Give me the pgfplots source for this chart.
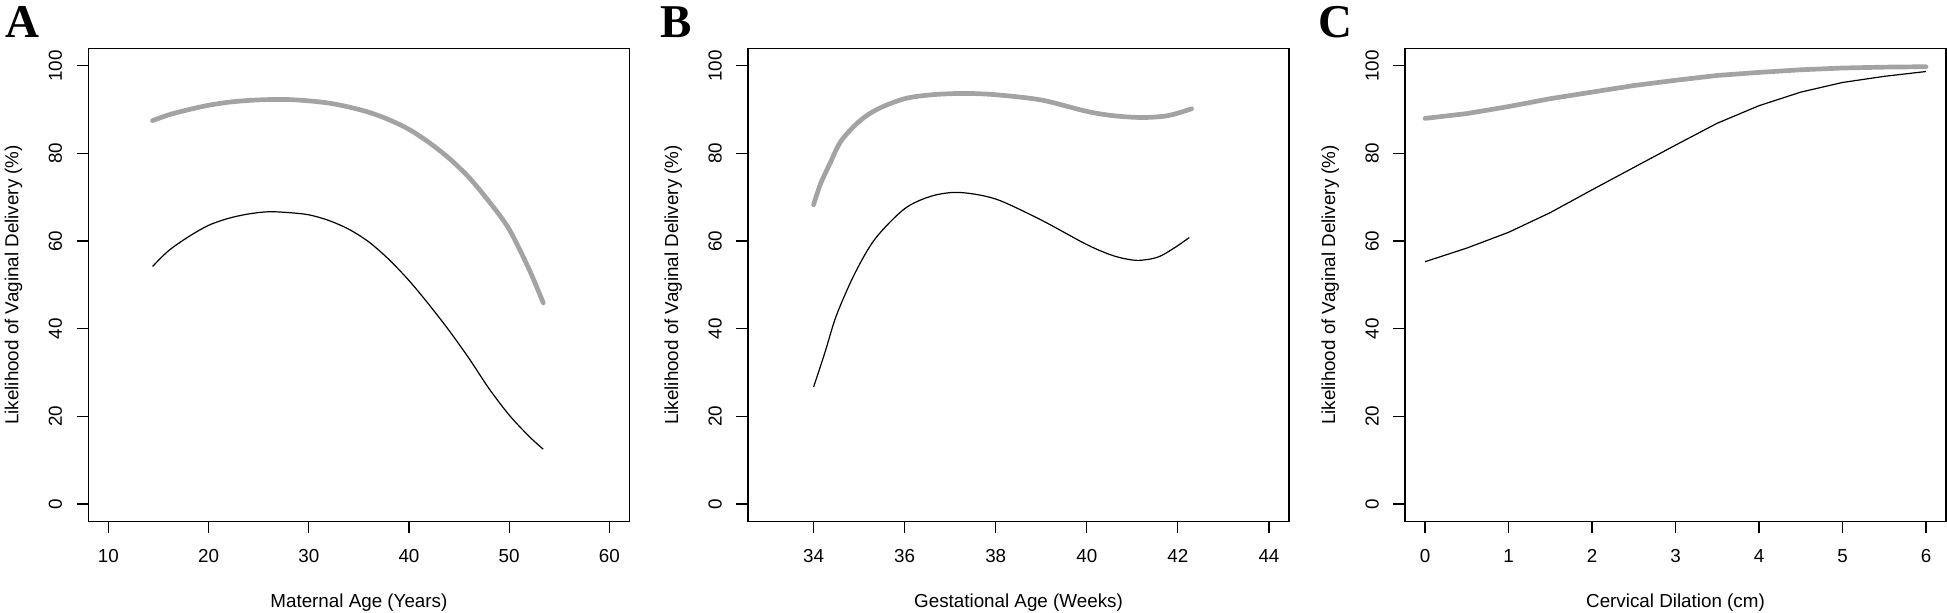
\documentclass[border=0pt]{standalone}
\usepackage{fontspec}
\setmainfont{Liberation Sans}
\newfontfamily\letterfont{Liberation Serif}
\usepackage{pgfplots}
\pgfplotsset{compat=1.18}
\definecolor{rgray}{RGB}{163,163,163}
\pgfplotsset{rpanel/.style={
  anchor=south west, scale only axis, width=270.5pt, height=236.6pt,
  ymin=-4, ymax=104, ytick={0,20,40,60,80,100},
  tick align=outside, major tick length=5.85pt,
  tick pos=left,
  axis line style={line width=0.6pt},
  every tick/.style={black, line width=0.6pt},
  /pgf/number format/assume math mode=true,
  ticklabel style={font=\fontsize{9.4}{11}\selectfont, inner sep=0pt},
  xticklabel style={anchor=base},
  yticklabel style={rotate=90, anchor=base},
  xticklabel shift=14.6pt,
  yticklabel shift=7.4pt,
  every axis x label/.style={at={(axis description cs:0.5,0)}, anchor=base, yshift=-42.9pt, font=\fontsize{9.4}{11}\selectfont, inner sep=0pt},
  every axis y label/.style={at={(axis description cs:-0.1294,0.5)}, rotate=90, anchor=base, font=\fontsize{9.4}{11}\selectfont, inner sep=0pt},
  ylabel={Likelihood of Vaginal Delivery (\%)},
  thickline/.style={rgray, line width=2.35pt, line cap=round, line join=round},
  thinline/.style={black, line width=0.6pt},
}}
\begin{document}
\begin{tikzpicture}
\useasboundingbox (0,0) rectangle (973.5pt,306pt);
\tikzset{panelletter/.style={anchor=base west, inner sep=0pt, font=\letterfont\bfseries\fontsize{23.5}{24}\selectfont}}
\node[panelletter] at (2.5pt,287.35pt) {A};
\node[panelletter] at (330.2pt,287.35pt) {B};
\node[panelletter] at (658.9pt,287.35pt) {C};

% Panel A
\begin{axis}[rpanel, at={(44.2pt,45.25pt)}, xmin=8, xmax=62, xtick={10,20,30,40,50,60},
  xlabel={Maternal Age (Years)}]
\addplot[thickline, smooth] coordinates {
(14.4,87.5) (16,88.8) (18,90.0) (20,91.0) (22,91.7) (24,92.1) (26,92.3) (28,92.3)
(30,92.0) (32,91.5) (34,90.6) (36,89.4) (38,87.7) (40,85.5) (42,82.5) (44,78.9)
(46,74.5) (48,69.0) (50,62.7) (52,53.5) (53.4,45.9)};
\addplot[thinline, smooth] coordinates {
(14.4,54.2) (16,57.8) (18,61.0) (20,63.6) (22,65.2) (24,66.2) (26,66.7) (28,66.5)
(30,66.0) (32,64.7) (34,62.7) (36,59.8) (38,55.8) (40,51.0) (42,45.5) (44,39.6)
(46,33.2) (48,26.3) (50,20.3) (52,15.4) (53.4,12.5)};
\end{axis}

% Panel B
\begin{axis}[rpanel, at={(374pt,45.25pt)}, xmin=32.56, xmax=44.44, xtick={34,36,38,40,42,44},
  xlabel={Gestational Age (Weeks)}]
\addplot[thickline, smooth] coordinates {
(34.0,68.3) (34.15,73.0) (34.35,77.5) (34.6,82.8) (35.0,87.3) (35.4,90.1) (36.0,92.5)
(36.6,93.4) (37.3,93.7) (38.0,93.4) (39.0,92.2) (40.0,89.6) (40.6,88.6) (41.2,88.2)
(41.7,88.5) (42.0,89.2) (42.3,90.2)};
\addplot[thinline, smooth] coordinates {
(34.0,26.7) (34.25,34.6) (34.5,43.0) (34.9,52.5) (35.35,60.5) (36.0,67.4) (36.6,70.3)
(37.2,71.1) (38.0,69.6) (39.0,64.8) (40.0,59.2) (40.6,56.6) (41.1,55.6) (41.55,56.3)
(41.9,58.3) (42.25,60.8)};
\end{axis}

% Panel C
\begin{axis}[rpanel, at={(702.5pt,45.25pt)}, xmin=-0.24, xmax=6.24, xtick={0,1,2,3,4,5,6},
  xlabel={Cervical Dilation (cm)}]
\addplot[thickline] coordinates {
(0,88.0) (0.5,89.1) (1,90.7) (1.5,92.5) (2,94.0) (2.5,95.5) (3,96.7) (3.5,97.8)
(4,98.5) (4.5,99.1) (5,99.5) (5.5,99.7) (6,99.8)};
\addplot[thinline] coordinates {
(0,55.3) (0.5,58.4) (1,62.0) (1.5,66.5) (2,71.7) (2.5,76.8) (3,81.9) (3.5,86.9)
(4,90.9) (4.5,94.0) (5,96.2) (5.5,97.6) (6,98.7)};
\end{axis}
\end{tikzpicture}
\end{document}
